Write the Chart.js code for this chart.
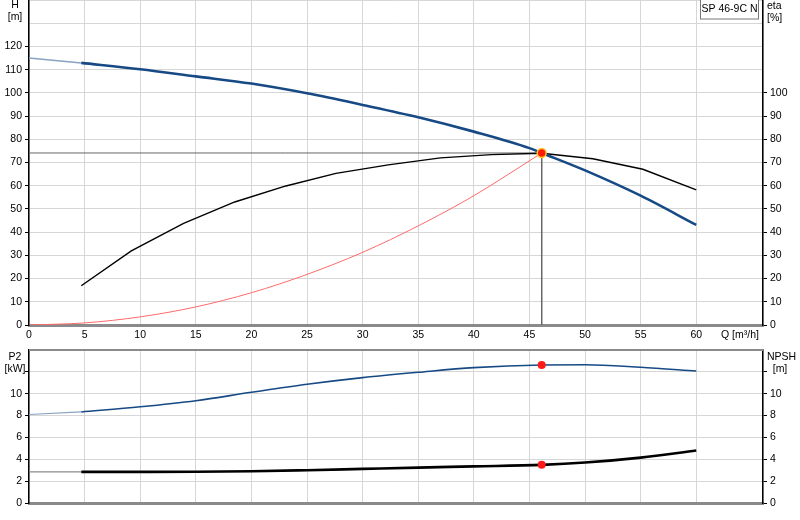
<!DOCTYPE html>
<html>
<head>
<meta charset="utf-8">
<script src="https://cdn.jsdelivr.net/npm/chart.js@4.4.1/dist/chart.umd.min.js"></script>
<style>
  html, body { margin: 0; padding: 0; background: #fff; }
  #wrap { position: relative; width: 800px; height: 520px; overflow: hidden; }
  #topChart, #bottomChart { position: absolute; left: 0; top: 0; }
</style>
</head>
<body>
<div id="wrap">
  <canvas id="topChart" width="800" height="345"></canvas>
  <canvas id="bottomChart" width="800" height="175"></canvas>
</div>
<script>
// Data (Q in m³/h)
const dutyFlow = 46.1;
const dutyHead = 74.1;
const dutyP2 = 12.63;
const dutyNpsh = 3.49;

// Head curve, extrapolated start (0..4.7) drawn lighter
const headExtFlow = [0, 4.7];
const headExt = [115.0, 112.9];
const headFlow = [4.7, 10, 15, 20, 25, 30, 35, 40, 45, 46.1, 50, 55, 60];
const head = [112.9, 110.2, 107.1, 104.0, 99.8, 94.8, 89.5, 83.3, 76.2, 74.1, 66.6, 55.7, 43.1];

// Efficiency (polyline)
const etaFlow = [4.7, 9.2, 13.9, 18.5, 23.1, 27.6, 32.3, 37.0, 41.6, 46.1, 50.7, 55.2, 60];
const eta = [16.9, 31.9, 43.8, 53.0, 59.9, 65.3, 69.0, 72.0, 73.4, 74.0, 71.6, 67.1, 58.2];

// System curve
const sysFlow = [0, 5, 10, 15, 20, 25, 30, 35, 40, 46.1];
const sysHead = [0, 0.9, 3.5, 7.8, 13.9, 21.8, 31.3, 42.7, 55.7, 74.1];

// Power P2 [kW]
const p2ExtFlow = [0, 4.7];
const p2Ext = [8.1, 8.33];
const p2Flow = [4.7, 10, 15, 20, 25, 30, 35, 40, 46.1, 50, 55, 60];
const p2 = [8.33, 8.8, 9.36, 10.13, 10.86, 11.47, 11.96, 12.39, 12.63, 12.65, 12.42, 12.08];

// NPSH [m]
const npshExtFlow = [0, 4.7];
const npshExt = [2.85, 2.85];
const npshFlow = [4.7, 10, 15, 20, 25, 30, 35, 40, 46.1, 50, 55, 60];
const npsh = [2.85, 2.85, 2.86, 2.9, 3.0, 3.12, 3.24, 3.35, 3.49, 3.7, 4.15, 4.8];

// Axis setup
const flowMax = 66;
const headTicksMax = 120;
const etaTicksMax = 100;
const lowerTicksMax = 10;

const FONT = "'Liberation Sans', Arial, sans-serif";
const FONT_SIZE = 10.5;
const GRID = '#d6d6d6';
Chart.defaults.font.family = FONT;
Chart.defaults.font.size = FONT_SIZE;
Chart.defaults.color = '#000';

const pts = (xs, ys) => xs.map((x, i) => ({ x: x, y: ys[i] }));

// Captions; y given relative to the top of the plot area
function textPlugin(items, extra) {
  return {
    id: 'captions',
    afterDraw(chart) {
      const ctx = chart.ctx;
      const top = chart.chartArea.top;
      ctx.save();
      ctx.translate(0, top);
      if (extra) extra(ctx, chart);
      ctx.font = FONT_SIZE + 'px ' + FONT;
      ctx.fillStyle = '#000';
      ctx.textBaseline = 'middle';
      items.forEach(t => {
        ctx.textAlign = t.align || 'center';
        ctx.fillText(t.text, t.x, t.y);
      });
      ctx.restore();
    }
  };
}

function xScale(height, showLabels) {
  return {
    type: 'linear',
    min: 0,
    max: flowMax,
    afterFit: s => {
      s.height = height;
      s.paddingLeft = 0;
      s.paddingRight = 0;
    },
    ticks: {
      stepSize: 5,
      display: showLabels,
      padding: 4,
      maxRotation: 0,
      callback: v => (v % 5 === 0 && v <= 60) ? v : ''
    },
    grid: { color: GRID, lineWidth: 1, drawTicks: false },
    border: { display: true, color: '#8a8a8a', width: 3 }
  };
}

function yScale(pos, max, step, labelMax, tickMax, width, onChart) {
  return {
    type: 'linear',
    position: pos,
    min: 0,
    max: max,
    afterFit: s => {
      s.width = width;
      s.paddingTop = 0;
      s.paddingBottom = 0;
    },
    ticks: {
      stepSize: step,
      padding: 3,
      callback: v => v <= labelMax ? v : ''
    },
    grid: {
      color: GRID,
      lineWidth: 1,
      drawOnChartArea: onChart,
      tickLength: 4,
      tickColor: c => (c.tick && c.tick.value <= tickMax) ? '#000' : 'rgba(0,0,0,0)'
    },
    border: { display: true, color: '#000', width: 1.5 }
  };
}

const baseOptions = {
  responsive: false,
  maintainAspectRatio: false,
  animation: false,
  events: [],
  layout: { padding: 0 },
  plugins: { legend: { display: false }, tooltip: { enabled: false } },
  elements: { point: { radius: 0 } }
};

// Put the plot area of a panel at page rows areaTop..areaBottom
function placePanel(chart, areaTop, areaBottom, axisH) {
  const d = chart.chartArea.top;
  chart.canvas.style.top = (areaTop - d) + 'px';
  chart.resize(800, Math.round(d + (areaBottom - areaTop) + axisH));
  chart.update('none');
}

// Upper panel: H and eta
const topChart = new Chart(document.getElementById('topChart'), {
  type: 'line',
  data: {
    datasets: [
      {
        data: [{ x: dutyFlow, y: dutyHead }],
        showLine: false,
        pointRadius: 4.5,
        pointBackgroundColor: '#ff1a00',
        pointBorderColor: '#ffc832',
        pointBorderWidth: 1.5
      },
      {
        data: pts(headFlow, head),
        borderColor: '#174a85',
        borderWidth: 2.6,
        tension: 0.3,
        cubicInterpolationMode: 'monotone'
      },
      {
        data: pts(headExtFlow, headExt),
        borderColor: '#8aa2c2',
        borderWidth: 1.5
      },
      {
        data: pts(etaFlow, eta),
        borderColor: '#000',
        borderWidth: 1.4,
        tension: 0
      },
      {
        data: pts(sysFlow, sysHead),
        borderColor: '#ff6a6a',
        borderWidth: 1,
        tension: 0.3,
        cubicInterpolationMode: 'monotone'
      },
      {
        data: [{ x: 0, y: dutyHead }, { x: dutyFlow, y: dutyHead }, { x: dutyFlow, y: 0 }],
        borderColor: '#666',
        borderWidth: 1,
        tension: 0
      }
    ]
  },
  options: {
    ...baseOptions,
    scales: {
      x: xScale(20, true),
      y: yScale('left', 140, 10, headTicksMax, headTicksMax, 29, true),
      y2: yScale('right', 140, 10, etaTicksMax, etaTicksMax, 37, false)
    }
  },
  plugins: [textPlugin([
    { text: 'H', x: 15, y: 5 },
    { text: '[m]', x: 15, y: 17 },
    { text: 'eta', x: 767, y: 6, align: 'left' },
    { text: '[%]', x: 767, y: 18, align: 'left' },
    { text: 'Q [m\u00b3/h]', x: 721, y: 335, align: 'left' },
    { text: 'SP 46-9C N', x: 729.5, y: 9 }
  ], (ctx) => {
    ctx.fillStyle = '#fff';
    ctx.fillRect(700.5, -1, 58, 20);
    ctx.strokeStyle = '#777';
    ctx.lineWidth = 1;
    ctx.strokeRect(700.5, -1, 58, 20);
  })]
});
placePanel(topChart, 0, 325, 20);

// Lower panel: P2 and NPSH
const bottomChart = new Chart(document.getElementById('bottomChart'), {
  type: 'line',
  data: {
    datasets: [
      {
        data: [{ x: dutyFlow, y: dutyP2 }, { x: dutyFlow, y: dutyNpsh }],
        showLine: false,
        pointRadius: 4,
        pointBackgroundColor: '#ff1a1a',
        pointBorderColor: '#ff1a1a',
        pointBorderWidth: 0
      },
      {
        data: pts(p2Flow, p2),
        borderColor: '#174a85',
        borderWidth: 1.6,
        tension: 0.3,
        cubicInterpolationMode: 'monotone'
      },
      {
        data: pts(p2ExtFlow, p2Ext),
        borderColor: '#8aa2c2',
        borderWidth: 1.2
      },
      {
        data: pts(npshFlow, npsh),
        borderColor: '#000',
        borderWidth: 2.6,
        tension: 0.3,
        cubicInterpolationMode: 'monotone'
      },
      {
        data: pts(npshExtFlow, npshExt),
        borderColor: '#8a8a8a',
        borderWidth: 1.2
      }
    ]
  },
  options: {
    ...baseOptions,
    scales: {
      x: xScale(17, false),
      y: yScale('left', 14, 2, lowerTicksMax, 12, 29, true),
      y2: yScale('right', 14, 2, lowerTicksMax, 12, 37, false)
    }
  },
  plugins: [textPlugin([
    { text: 'P2', x: 15, y: 7 },
    { text: '[kW]', x: 15, y: 19 },
    { text: 'NPSH', x: 767, y: 7, align: 'left' },
    { text: '[m]', x: 780, y: 19 }
  ], (ctx, chart) => {
    const a = chart.chartArea;
    ctx.strokeStyle = '#8a8a8a';
    ctx.lineWidth = 2;
    ctx.beginPath();
    ctx.moveTo(a.left, 0);
    ctx.lineTo(a.right, 0);
    ctx.stroke();
  })]
});
placePanel(bottomChart, 350, 503, 17);
</script>
</body>
</html>
